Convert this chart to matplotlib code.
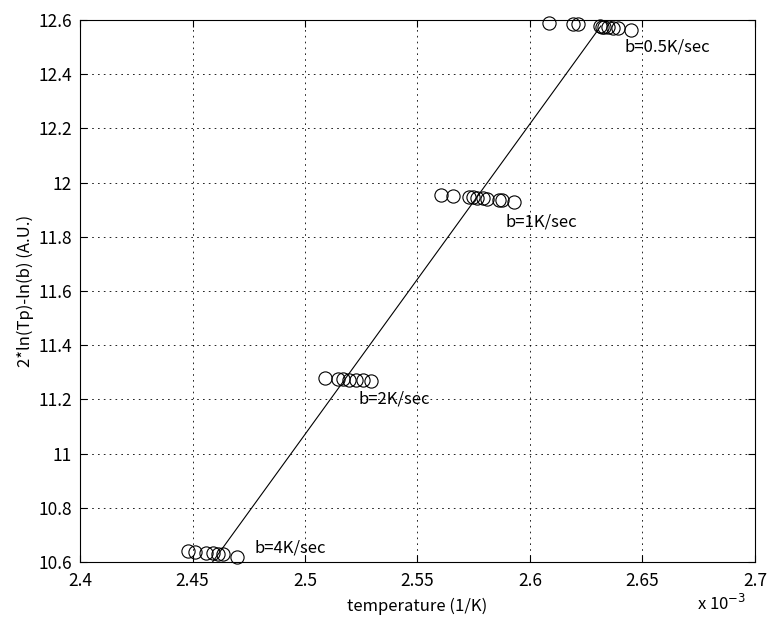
import matplotlib
matplotlib.use("Agg")
import matplotlib.pyplot as plt

plt.rcParams['font.family'] = ['Noto Sans CJK JP', 'DejaVu Sans']

# inverse temperature (x 1e-3 1/K) and 2*ln(Tp)-ln(b) for each heating rate
x_b05 = [2.6084, 2.6191, 2.6213, 2.6309, 2.6319, 2.6331, 2.6346, 2.6368, 2.6390, 2.6449]
y_b05 = [12.588, 12.585, 12.585, 12.577, 12.576, 12.575, 12.574, 12.572, 12.570, 12.563]

x_b1 = [2.5606, 2.5656, 2.5727, 2.5747, 2.5766, 2.5791, 2.5810, 2.5864, 2.5876, 2.5930]
y_b1 = [11.955, 11.952, 11.947, 11.946, 11.945, 11.943, 11.941, 11.936, 11.935, 11.930]

x_b2 = [2.5090, 2.5145, 2.5170, 2.5195, 2.5225, 2.5260, 2.5293]
y_b2 = [11.280, 11.276, 11.275, 11.273, 11.271, 11.270, 11.268]

x_b4 = [2.4480, 2.4510, 2.4560, 2.4590, 2.4615, 2.4635, 2.4698]
y_b4 = [10.640, 10.637, 10.634, 10.632, 10.630, 10.629, 10.620]

# fitted straight line (end points)
fit_x = [2.4589, 2.6315]
fit_y = [10.600, 12.578]

labels = ["b=0.5K/sec", "b=1K/sec", "b=2K/sec", "b=4K/sec"]
label_x = [2.6420, 2.5890, 2.5240, 2.4775]
label_y = [12.500, 11.855, 11.200, 10.650]

xticks = [2.4, 2.45, 2.5, 2.55, 2.6, 2.65, 2.7]
xticklabels = ["2.4", "2.45", "2.5", "2.55", "2.6", "2.65", "2.7"]
yticks = [10.6, 10.8, 11.0, 11.2, 11.4, 11.6, 11.8, 12.0, 12.2, 12.4, 12.6]
yticklabels = ["10.6", "10.8", "11", "11.2", "11.4", "11.6", "11.8", "12", "12.2", "12.4", "12.6"]

fig = plt.figure(figsize=(7.68, 6.18), dpi=100)
ax = fig.add_axes([80/768, 1 - 562/618, (755-80)/768, (562-20)/618])

for xs, ys in [(x_b05, y_b05), (x_b1, y_b1), (x_b2, y_b2), (x_b4, y_b4)]:
    ax.plot(xs, ys, 'o', markersize=9.5, markerfacecolor='none',
            markeredgecolor='black', markeredgewidth=0.8, clip_on=False)

ax.plot(fit_x, fit_y, '-', color='black', linewidth=0.8)

for t, lx, ly in zip(labels, label_x, label_y):
    ax.text(lx, ly, t, fontsize=12, va='center', ha='left', color='black')

ax.set_xlim(2.4, 2.7)
ax.set_ylim(10.6, 12.6)
ax.set_xticks(xticks)
ax.set_xticklabels(xticklabels)
ax.set_yticks(yticks)
ax.set_yticklabels(yticklabels)
ax.tick_params(direction='in', top=True, right=True, labelsize=12.5, length=5, width=0.8)
ax.tick_params(axis='x', pad=7)
ax.tick_params(axis='y', pad=6)
ax.grid(True, color='black', linestyle=(0, (2, 5)), linewidth=0.6)
for s in ax.spines.values():
    s.set_linewidth(0.8)

ax.set_xlabel("temperature (1/K)", fontsize=12, labelpad=6)
ax.set_ylabel("2*ln(Tp)-ln(b) (A.U.)", fontsize=12, labelpad=3)
fig.text(697/768, 1 - 604/618, r"x 10$^{-3}$", fontsize=12, va='center', ha='left')

fig.savefig("out.png", dpi=100)
